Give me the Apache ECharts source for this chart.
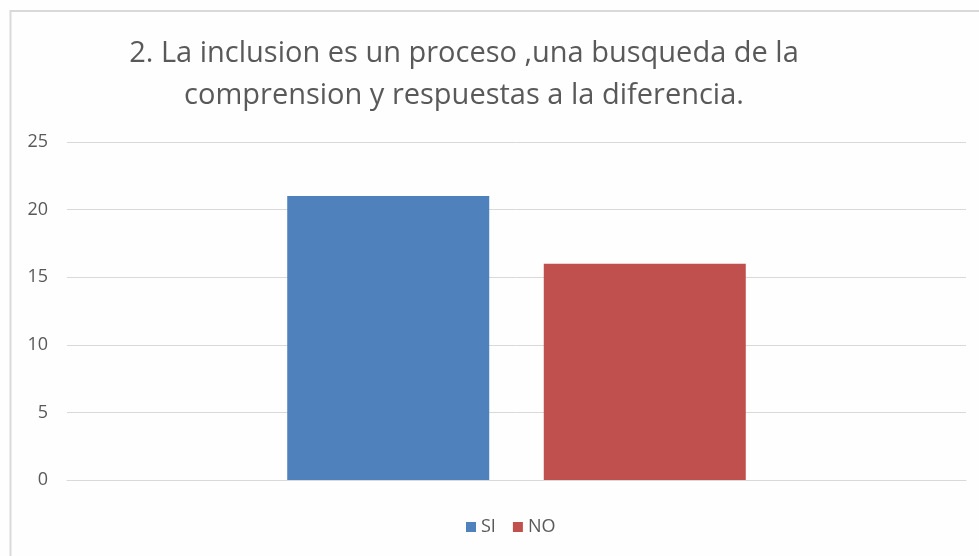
<!DOCTYPE html>
<html>
<head>
<meta charset="utf-8">
<script src="https://cdn.jsdelivr.net/npm/echarts@6/dist/echarts.min.js"></script>
<style>
  html, body { margin: 0; padding: 0; background: #fff; }
  #chart { width: 979px; height: 556px; }
</style>
</head>
<body>
<div id="chart"></div>
<script>
// datos
const categories = ['']
const siValues = [21]
const noValues = [16]
const yTicks = [0, 5, 10, 15, 20, 25]

const chart = echarts.init(document.getElementById('chart'))
chart.setOption({
  backgroundColor: '#fefefe',
  animation: false,
  textStyle: { fontFamily: 'Open Sans' },
  title: {
    text: '2. La inclusion es un proceso ,una busqueda de la\ncomprension y respuestas a la diferencia.',
    left: 459,
    top: 28,
    textAlign: 'center',
    textStyle: {
      color: '#595959',
      fontSize: 29,
      fontWeight: 'normal',
      lineHeight: 42,
      fontFamily: 'Open Sans'
    }
  },
  graphic: [
    {
      type: 'rect',
      shape: { x: 10.5, y: 11, width: 1000, height: 600 },
      style: { fill: 'none', stroke: '#d9d9d9', lineWidth: 2 },
      silent: true
    }
  ],
  legend: {
    data: ['SI', 'NO'],
    bottom: 15,
    left: 461,
    itemWidth: 10,
    itemHeight: 10,
    itemGap: 17,
    icon: 'rect',
    textStyle: { color: '#595959', fontSize: 18 }
  },
  grid: {
    left: 67,
    right: 13,
    top: 142,
    bottom: 76,
    containLabel: false
  },
  xAxis: {
    type: 'category',
    data: categories,
    axisLine: { lineStyle: { color: '#d9d9d9' } },
    axisTick: { show: false },
    axisLabel: { show: false }
  },
  yAxis: {
    type: 'value',
    min: yTicks[0],
    max: yTicks[yTicks.length - 1],
    interval: 5,
    axisLine: { show: false },
    axisTick: { show: false },
    axisLabel: { color: '#595959', fontSize: 18, margin: 19 },
    splitLine: { lineStyle: { color: '#d9d9d9' } }
  },
  series: [
    {
      name: 'SI',
      type: 'bar',
      data: siValues,
      barWidth: 202,
      barGap: '27%',
      itemStyle: { color: '#4f81bd' }
    },
    {
      name: 'NO',
      type: 'bar',
      data: noValues,
      barWidth: 202,
      itemStyle: { color: '#c0504d' }
    }
  ]
})
</script>
</body>
</html>
